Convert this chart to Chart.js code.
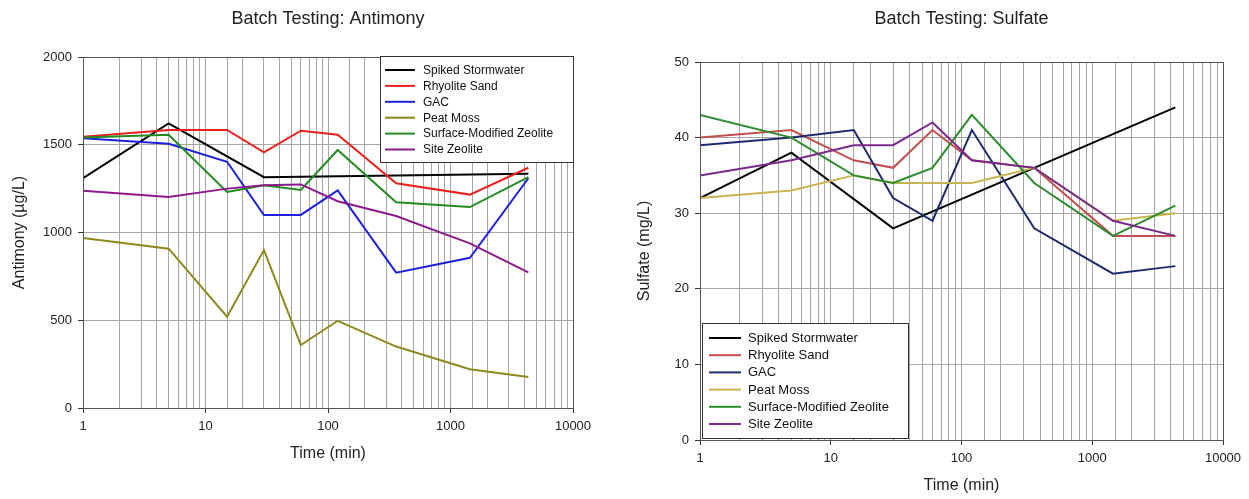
<!DOCTYPE html>
<html>
<head>
<meta charset="utf-8">
<script src="https://cdn.jsdelivr.net/npm/chart.js@4.4.0/dist/chart.umd.min.js"></script>
<style>
  body { margin: 0; background: #fff; width: 1249px; height: 499px; position: relative; overflow: hidden; }
  #sb { position: absolute; left: 0; top: 0; }
  #so4 { position: absolute; left: 620px; top: 0; }
</style>
</head>
<body>
<canvas id="sb" width="600" height="499"></canvas>
<canvas id="so4" width="629" height="499"></canvas>
<script>
// --- data ---
const times = [1, 5, 15, 30, 60, 120, 360, 1440, 4320];
const names = ["Spiked Stormwater", "Rhyolite Sand", "GAC", "Peat Moss", "Surface-Modified Zeolite", "Site Zeolite"];

// antimony, ug/L
const sbSpiked   = [1309, 1622, null, 1315, null, null, null, null, 1335];
const sbRhyolite = [1546, 1584, 1584, 1457, 1580, 1557, 1280, 1216, 1369];
const sbGac      = [1537, 1506, 1403, 1100, 1100, 1240, 771, 856, 1309];
const sbPeat     = [969, 908, 520, 900, 359, 497, 350, 221, 177];
const sbSmz      = [1542, 1557, 1231, 1269, 1242, 1470, 1172, 1145, 1315];
const sbSite     = [1238, 1202, 1250, 1269, 1274, 1178, 1094, 938, 773];

// sulfate, mg/L
const so4Spiked   = [32, 38, null, 28, null, null, null, null, 44];
const so4Rhyolite = [40, 41, 37, 36, 41, 37, 36, 27, 27];
const so4Gac      = [39, 40, 41, 32, 29, 41, 28, 22, 23];
const so4Peat     = [32, 33, 35, 34, 34, 34, 36, 29, 30];
const so4Smz      = [43, 40, 35, 34, 36, 43, 34, 27, 31];
const so4Site     = [35, 37, 39, 39, 42, 37, 36, 29, 27];

const xTicksAt = [1, 10, 100, 1000, 10000];

const sbColors  = ["#000000", "#e8201e", "#1f1fe0", "#8a8a1e", "#228b22", "#8b1a8b"];
const so4Colors = ["#000000", "#c0504d", "#1f2a6e", "#c8b450", "#2e8b2e", "#7a2a8a"];

const FONT = "'Liberation Sans', Arial, sans-serif";

// рамка, заголовок и легенда поверх графика
const framePlugin = {
  id: "frame",
  afterDraw(chart, args, o) {
    const { ctx, chartArea: a } = chart;
    ctx.save();
    ctx.strokeStyle = "#555";
    ctx.lineWidth = 1;
    ctx.strokeRect(Math.round(a.left) + 0.5, Math.round(a.top) + 0.5,
      Math.round(a.right - a.left), Math.round(a.bottom - a.top));

    ctx.fillStyle = "#222";
    ctx.font = "18px " + FONT;
    ctx.textAlign = "center";
    ctx.textBaseline = "middle";
    ctx.fillText(o.title, (a.left + a.right) / 2, o.titleY);

    const L = o.legend;
    ctx.fillStyle = "#fff";
    ctx.fillRect(L.x, L.y, L.w, L.h);
    ctx.strokeStyle = "#333";
    ctx.strokeRect(L.x + 0.5, L.y + 0.5, L.w, L.h);
    ctx.font = L.font + "px " + FONT;
    ctx.textAlign = "left";
    chart.data.datasets.forEach((ds, i) => {
      const y = L.y + L.first + i * L.step;
      ctx.strokeStyle = ds.borderColor;
      ctx.lineWidth = 2;
      ctx.beginPath();
      ctx.moveTo(L.x + L.lx0, y);
      ctx.lineTo(L.x + L.lx1, y);
      ctx.stroke();
      ctx.fillStyle = "#111";
      ctx.fillText(ds.label, L.x + L.tx, y + 0.5);
    });
    ctx.restore();
  }
};

function makeChart(id, cfg) {
  const datasets = cfg.series.map((vals, i) => ({
    label: names[i],
    data: times.map((t, k) => ({ x: t, y: vals[k] })),
    borderColor: cfg.colors[i],
    backgroundColor: cfg.colors[i],
    borderWidth: 2,
    pointRadius: 0,
    tension: 0,
    spanGaps: true,
    order: cfg.series.length - i,
  }));

  return new Chart(document.getElementById(id), {
    type: "line",
    data: { datasets },
    options: {
      responsive: false,
      animation: false,
      layout: { padding: { top: cfg.top, right: cfg.right, left: 0, bottom: 0 } },
      plugins: {
        legend: { display: false },
        tooltip: { enabled: false },
        frame: { title: cfg.title, titleY: 19, legend: cfg.legend },
      },
      scales: {
        x: {
          type: "logarithmic",
          min: 1,
          max: 10000,
          afterFit: s => { s.height = cfg.xHeight; },
          border: { color: "#333" },
          grid: {
            color: "#a6a6a6",
            tickLength: 5,
            tickColor: c => xTicksAt.includes(c.tick && c.tick.value) ? "#333" : "rgba(0,0,0,0)",
          },
          ticks: {
            autoSkip: false,
            maxRotation: 0,
            padding: 6,
            color: "#222",
            font: { family: FONT, size: 13 },
            callback: v => xTicksAt.includes(v) ? String(v) : "",
          },
          title: {
            display: true,
            text: "Time (min)",
            color: "#222",
            font: { family: FONT, size: 16 },
            padding: { top: 0, bottom: cfg.xTitlePad },
          },
        },
        y: {
          min: 0,
          max: cfg.yMax,
          afterFit: s => { s.width = cfg.yWidth; },
          border: { color: "#333" },
          grid: { color: "#a6a6a6", tickLength: 5, tickColor: "#333" },
          ticks: {
            stepSize: cfg.yStep,
            padding: 6,
            color: "#222",
            font: { family: FONT, size: 13 },
            callback: v => String(v),
          },
          title: {
            display: true,
            text: cfg.yTitle,
            color: "#222",
            font: { family: FONT, size: 16 },
            padding: { top: cfg.yTitlePad, bottom: 0 },
          },
        },
      },
    },
    plugins: [framePlugin],
  });
}

makeChart("sb", {
  title: "Batch Testing: Antimony",
  yTitle: "Antimony (µg/L)",
  series: [sbSpiked, sbRhyolite, sbGac, sbPeat, sbSmz, sbSite],
  colors: sbColors,
  yMax: 2000, yStep: 500,
  top: 57, right: 27, yWidth: 83, xHeight: 91,
  xTitlePad: 36, yTitlePad: 10,
  legend: { x: 380, y: 56, w: 193, h: 106, first: 14, step: 15.9, lx0: 5, lx1: 35, tx: 43, font: 12 },
});

makeChart("so4", {
  title: "Batch Testing: Sulfate",
  yTitle: "Sulfate (mg/L)",
  series: [so4Spiked, so4Rhyolite, so4Gac, so4Peat, so4Smz, so4Site],
  colors: so4Colors,
  yMax: 50, yStep: 10,
  top: 62, right: 26, yWidth: 80, xHeight: 59,
  xTitlePad: 4, yTitlePad: 15,
  legend: { x: 82, y: 323, w: 206, h: 115, first: 15, step: 17.2, lx0: 7, lx1: 39, tx: 46, font: 13 },
});
</script>
</body>
</html>
